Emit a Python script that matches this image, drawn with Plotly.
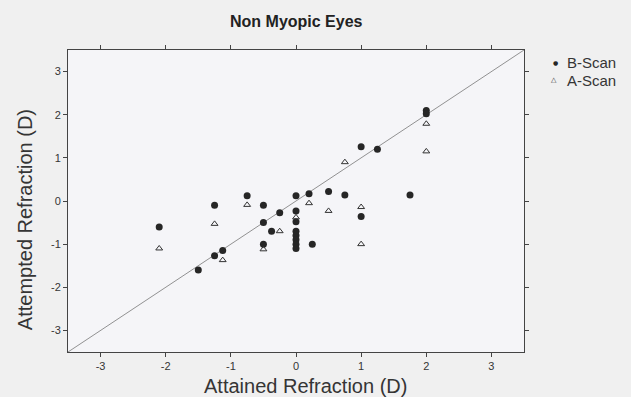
import plotly.graph_objects as go

# Data
b_scan_x = [-2.1, -1.25, -0.75, -0.5, -0.5, -0.5, -0.25, -0.375, -1.25, -1.125, -1.5,
            0.0, 0.0, 0.0, 0.0, 0.0, 0.0, 0.0, 0.0,
            0.25, 0.2, 0.5, 0.75, 1.0, 1.25, 1.0, 1.75, 2.0, 2.0]
b_scan_y = [-0.6, -0.1, 0.12, -0.1, -0.5, -1.0, -0.27, -0.7, -1.27, -1.15, -1.6,
            0.12, -0.23, -0.48, -0.7, -0.8, -0.9, -1.0, -1.1,
            -1.0, 0.17, 0.22, 0.14, 1.26, 1.2, -0.36, 0.14, 2.1, 2.02]

a_scan_x = [-2.1, -1.25, -1.125, -0.75, -0.5, -0.25, 0.0, 0.2, 0.5, 0.75, 1.0, 1.0, 2.0, 2.0]
a_scan_y = [-1.1, -0.53, -1.37, -0.09, -1.12, -0.7, -0.38, -0.05, -0.23, 0.9, -0.14, -1.0, 1.79, 1.15]

identity = [-3.5, 3.5]
tick_vals = [-3, -2, -1, 0, 1, 2, 3]
tick_text = ["-3", "-2", "-1", "0", "1", "2", "3"]
series_names = ["B-Scan", "A-Scan"]

FONT = "Liberation Sans, Arial, sans-serif"
TXT = "#353535"

fig = go.Figure()
fig.add_trace(go.Scatter(x=identity, y=identity, mode="lines",
                         line=dict(color="#777777", width=0.8),
                         showlegend=False, hoverinfo="skip"))
fig.add_trace(go.Scatter(x=b_scan_x, y=b_scan_y, mode="markers", name=series_names[0],
                         showlegend=False,
                         marker=dict(symbol="circle", size=7, color="#262626",
                                     line=dict(width=0))))
fig.add_trace(go.Scatter(x=a_scan_x, y=a_scan_y, mode="markers", name=series_names[1],
                         showlegend=False,
                         marker=dict(symbol="triangle-up-open", size=6, color="#333333",
                                     line=dict(width=1))))

axis_common = dict(range=[-3.5, 3.5], tickvals=tick_vals, ticktext=tick_text,
                   ticks="outside", ticklen=4, tickcolor="#444444", tickwidth=1,
                   showline=True, linecolor="#444444", linewidth=1, mirror="ticks",
                   showgrid=False, zeroline=False,
                   tickfont=dict(family=FONT, size=11, color=TXT))

LEG_Y1 = 0.957
LEG_Y2 = 0.900

annotations = [
    dict(text="<b>Non Myopic Eyes</b>", xref="paper", yref="paper",
         x=0.502, y=1.093, xanchor="center", yanchor="middle", showarrow=False,
         font=dict(family=FONT, size=16, color="#222222")),
    dict(text="Attained Refraction (D)", xref="paper", yref="paper",
         x=0.52, y=-0.112, xanchor="center", yanchor="middle", showarrow=False,
         font=dict(family=FONT, size=20, color=TXT)),
    dict(text="Attempted Refraction (D)", xref="paper", yref="paper",
         x=-0.094, y=0.437, xanchor="center", yanchor="middle", showarrow=False,
         textangle=-90, font=dict(family=FONT, size=20, color=TXT)),
    # legend
    dict(text="●", xref="paper", yref="paper", x=1.068, y=LEG_Y1,
         xanchor="center", yanchor="middle", showarrow=False,
         font=dict(family="DejaVu Sans", size=6, color="#262626")),
    dict(text="△", xref="paper", yref="paper", x=1.066, y=LEG_Y2,
         xanchor="center", yanchor="middle", showarrow=False,
         font=dict(family="DejaVu Sans", size=7, color="#333333")),
    dict(text=series_names[0], xref="paper", yref="paper", x=1.090, y=LEG_Y1,
         xanchor="left", yanchor="middle", showarrow=False,
         font=dict(family=FONT, size=15, color=TXT)),
    dict(text=series_names[1], xref="paper", yref="paper", x=1.090, y=LEG_Y2,
         xanchor="left", yanchor="middle", showarrow=False,
         font=dict(family=FONT, size=15, color=TXT)),
]

fig.update_layout(
    width=631, height=397,
    margin=dict(l=68, r=107, t=50, b=45),
    paper_bgcolor="#f0f0f0", plot_bgcolor="#f5f5f8",
    font=dict(family=FONT, color=TXT),
    xaxis=axis_common,
    yaxis=axis_common,
    showlegend=False,
    annotations=annotations,
)

fig.write_html("out.html")
